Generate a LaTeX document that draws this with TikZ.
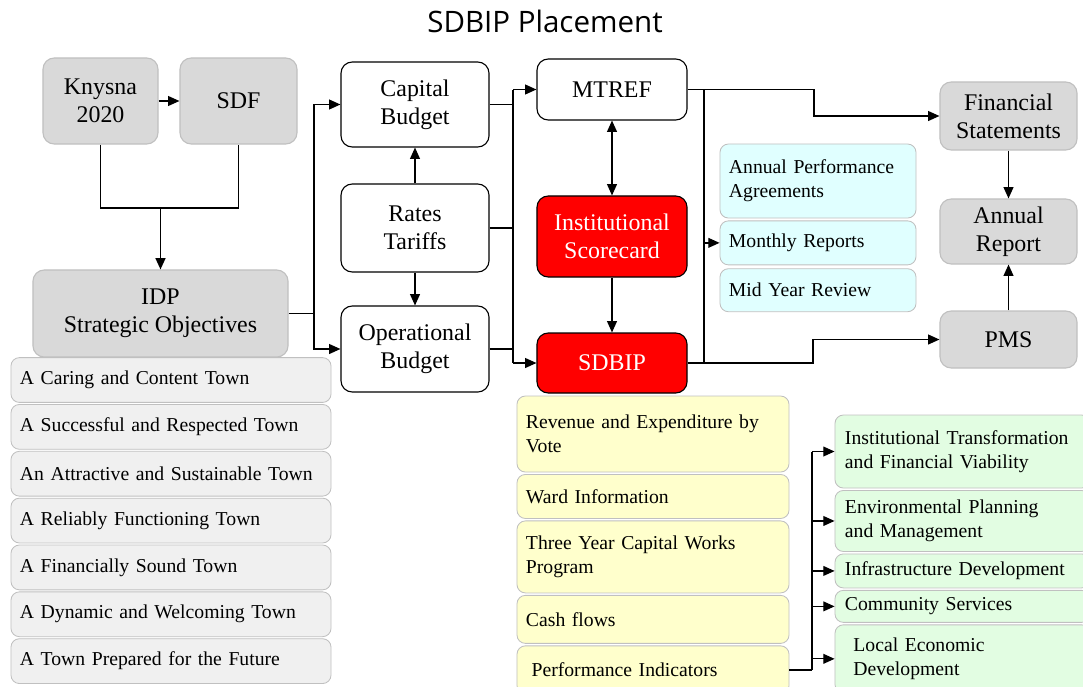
\documentclass[tikz,border=0pt]{standalone}
\usepackage{fontspec}
\setmainfont{Liberation Serif}
\newfontfamily\titlefont{Open Sans}
\usetikzlibrary{arrows.meta,positioning}

\definecolor{boxgray}{HTML}{D9D9D9}
\definecolor{linegray}{HTML}{C0C0C0}
\definecolor{listgray}{HTML}{F0F0F0}
\definecolor{paleyellow}{HTML}{FFFFCC}
\definecolor{palecyan}{HTML}{E0FFFF}
\definecolor{palegreen}{HTML}{E2FDE2}

\tikzset{
  block/.style={draw, rounded corners=8pt, align=center, line width=0.8pt,
    font=\fontsize{17}{20}\selectfont},
  grayblock/.style={block, draw=linegray, fill=boxgray},
  redblock/.style={block, fill=red, text=white},
  item/.style={draw=linegray, rounded corners=6pt, align=left, line width=0.6pt,
    inner ysep=2pt, inner xsep=0.225cm, font=\fontsize{14}{17}\selectfont},
  objective/.style={item, fill=listgray, text width=7.55cm, minimum height=1.12cm},
  budgetitem/.style={item, fill=paleyellow, text width=6.35cm},
  report/.style={item, fill=palecyan, text width=4.45cm},
  kpa/.style={item, fill=palegreen, inner xsep=0.25cm, text width=5.875cm},
}

\begin{document}
\begin{tikzpicture}[x=0.025cm, y=-0.025cm, ->, >={Stealth[inset=0pt,length=8pt,width=7pt]},
  line width=0.9pt]
\path[use as bounding box] (0,0) rectangle (1083,686);
\node[font=\titlefont\fontsize{21}{25}\selectfont] (title) at (545,21) {SDBIP Placement};

% planning side
\node[grayblock, minimum width=2.875cm, minimum height=2.15cm] (K20) at (100.5,101) {Knysna\\2020};
\node[grayblock, minimum width=2.925cm, minimum height=2.15cm] (SDF) at (238.5,101) {SDF};
\node[grayblock, minimum width=6.375cm, minimum height=2.175cm] (IDP) at (160.5,313.5) {IDP\\Strategic Objectives};

\node[objective] (O1) at (171,380) {A Caring and Content Town};
\node[objective, below=0.03cm of O1] (O2) {A Successful and Respected Town};
\node[objective, below=0.03cm of O2] (O3) {An Attractive and Sustainable Town};
\node[objective, below=0.03cm of O3] (O4) {A Reliably Functioning Town};
\node[objective, below=0.03cm of O4] (O5) {A Financially Sound Town};
\node[objective, below=0.03cm of O5] (O6) {A Dynamic and Welcoming Town};
\node[objective, below=0.03cm of O6] (O7) {A Town Prepared for the Future};

% budget
\node[block, minimum width=3.7cm, minimum height=2.125cm] (CB) at (415,104.5) {Capital\\Budget};
\node[block, minimum width=3.7cm, minimum height=2.2cm] (RT) at (415,228) {Rates\\Tariffs};
\node[block, minimum width=3.7cm, minimum height=2.15cm] (OB) at (415,349) {Operational\\Budget};

\node[block, minimum width=3.75cm, minimum height=1.525cm] (MT) at (612,89.5) {MTREF};
\node[redblock, minimum width=3.75cm, minimum height=2.025cm] (IS) at (612,236.5) {Institutional\\Scorecard};
\node[redblock, minimum width=3.75cm, minimum height=1.5cm] (SB) at (612,363) {SDBIP};

\node[budgetitem, minimum height=1.9cm] (Y1) at (653,434) {Revenue and Expenditure by\\Vote};
\node[budgetitem, minimum height=1.1cm, below=0.04cm of Y1] (Y2) {Ward Information};
\node[budgetitem, minimum height=1.8cm, below=0.04cm of Y2] (Y3) {Three Year Capital Works\\Program};
\node[budgetitem, minimum height=1.2cm, below=0.04cm of Y3] (Y4) {Cash flows};
\node[budgetitem, minimum height=1.2cm, below=0.04cm of Y4] (Y5) {\hspace*{4pt}Performance Indicators};

\node[kpa, minimum height=1.825cm] (G1) at (962.5,451.5) {Institutional Transformation\\and Financial Viability};
\node[kpa, minimum height=1.525cm, below=0.04cm of G1] (G2) {Environmental Planning\\and Management};
\node[kpa, minimum height=0.85cm, below=0.04cm of G2] (G3) {Infrastructure Development};
\node[kpa, minimum height=0.8cm, below=0.04cm of G3] (G4) {Community Services};
\node[kpa, minimum height=1.7cm, below=0.04cm of G4] (G5) {\hspace*{6pt}Local Economic\\\hspace*{6pt}Development};

% reporting
\node[report, minimum height=1.85cm] (C1) at (818,181) {Annual Performance\\Agreements};
\node[report, minimum height=1.1cm, below=0.05cm of C1] (C2) {Monthly Reports};
\node[report, minimum height=1.075cm, below=0.075cm of C2] (C3) {Mid Year Review};

\node[grayblock, minimum width=3.425cm, minimum height=1.7cm] (FS) at (1008.5,116) {Financial\\Statements};
\node[grayblock, minimum width=3.425cm, minimum height=1.625cm] (AR) at (1008.5,231.5) {Annual\\Report};
\node[grayblock, minimum width=3.425cm, minimum height=1.425cm] (PMS) at (1008.5,339.5) {PMS};

% connectors
\coordinate (KJ) at (160.5,208);
\coordinate (IJ) at (314,313.5);
\coordinate (BB) at (513,0);
\coordinate (RB) at (704,0);
\coordinate (FJ) at (814,0);
\coordinate (PJ) at (813,0);
\coordinate (GB) at (812,0);

\draw (K20) -- (SDF);
\draw[-, line width=1.2pt] (K20) |- (KJ) -| (SDF);
\draw[line width=1.2pt] (KJ) -- (IDP);

\draw[-] (IDP) -- (IJ);
\draw (IJ) |- (CB);
\draw (IJ) |- (OB);
\draw (RT) -- (CB);
\draw (RT) -- (OB);

\draw[-] (CB) -- (CB -| BB);
\draw[-] (RT) -- (RT -| BB);
\draw[-] (OB) -- (OB -| BB);
\draw[-] (MT -| BB) -- (SB -| BB);
\draw (MT -| BB) -- (MT);
\draw (SB -| BB) -- (SB);

\draw[<->] (MT) -- (IS);
\draw (IS) -- (SB);

\draw (MT) -- (MT -| FJ) |- (FS);
\draw[-] (MT -| RB) -- (SB -| RB);
\draw (C2 -| RB) -- (C2);
\draw (SB) -- (SB -| PJ) |- (PMS);
\draw (FS) -- (AR);
\draw (PMS) -- (AR);

\draw[-, line width=1.4pt] (Y5) -- (Y5 -| GB);
\draw[-] (Y5 -| GB) -- (G1 -| GB);
\draw (G1 -| GB) -- (G1);
\draw (G2 -| GB) -- (G2);
\draw (G3 -| GB) -- (G3);
\draw (G4 -| GB) -- (G4);
\draw (G5 -| GB) -- (G5);
\end{tikzpicture}
\end{document}
